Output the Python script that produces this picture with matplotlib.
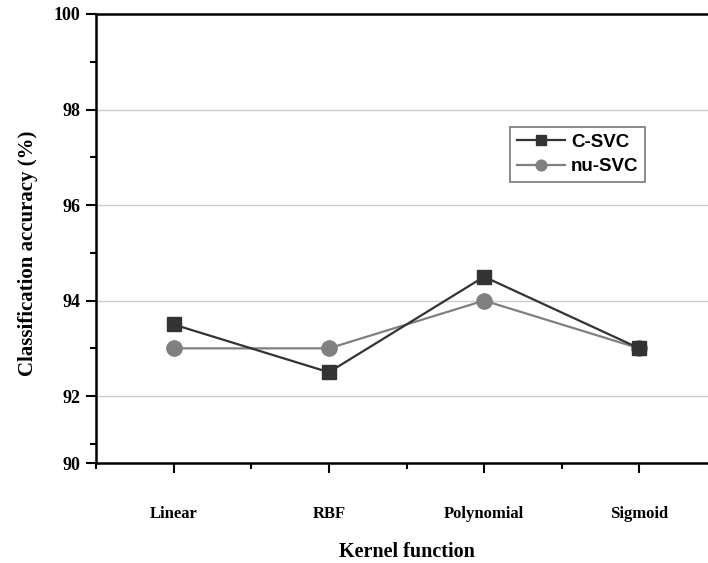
import matplotlib
matplotlib.use("Agg")
import matplotlib.pyplot as plt
from matplotlib.ticker import FixedLocator

categories = ["Linear", "RBF", "Polynomial", "Sigmoid"]
c_svc = [93.5, 92.5, 94.5, 93.0]
nu_svc = [93.0, 93.0, 94.0, 93.0]
ytick_labels = ["90", "92", "94", "96", "98", "100"]

# layout: the original axis is truncated just above 90 (bottom tick labelled 90)
Y_BOTTOM = 90.6
Y_TOP = 100
ytick_pos = [Y_BOTTOM, 92, 94, 96, 98, 100]
yminor_pos = [91, 93, 95, 97, 99]

plt.rcParams['font.family'] = ['Liberation Serif', 'DejaVu Serif']

fig = plt.figure(figsize=(7.08, 5.63), dpi=100)
ax = fig.add_axes([96/708, 1-463/563, (717-96)/708, (463-14)/563])

x = list(range(len(categories)))
ax.plot(x, c_svc, color='#333333', marker='s', markersize=10, linewidth=1.6,
        label='C-SVC', zorder=3)
ax.plot(x, nu_svc, color='#808080', marker='o', markersize=11, linewidth=1.6,
        label='nu-SVC', zorder=2)

ax.set_xlim(-0.5, 3.5)
ax.set_ylim(Y_BOTTOM, Y_TOP)
ax.set_xticks(x)
ax.set_xticklabels(categories, fontsize=12, fontweight='bold')
ax.xaxis.set_minor_locator(FixedLocator([-0.5, 0.5, 1.5, 2.5]))
ax.set_yticks(ytick_pos)
ax.set_yticklabels(ytick_labels, fontsize=13, fontweight='bold')
ax.yaxis.set_minor_locator(FixedLocator(yminor_pos))
ax.tick_params(which='major', direction='out', length=7, width=1.5, pad=4)
ax.tick_params(which='minor', direction='out', length=4, width=1.5)
ax.tick_params(axis='x', which='major', pad=24)

for s in ax.spines.values():
    s.set_linewidth(1.8)
ax.spines['right'].set_visible(False)

for gy in [92, 94, 96, 98]:
    ax.axhline(gy, color='#cccccc', linewidth=1, zorder=0)

ax.set_ylabel('Classification accuracy (%)', fontsize=15, fontweight='bold')
ax.yaxis.set_label_coords((38-96)/621, (463-253)/449)
ax.set_xlabel('Kernel function', fontsize=14.5, fontweight='bold')
ax.xaxis.set_label_coords(0.5, (463-542)/449)

leg = ax.legend(loc='upper left', bbox_to_anchor=(510/708, 1-127/563),
                bbox_transform=fig.transFigure, frameon=True, fancybox=False,
                prop={'family': 'Liberation Sans', 'weight': 'bold', 'size': 13.5},
                handlelength=2.6, handletextpad=0.3, borderpad=0.35, labelspacing=0.4,
                borderaxespad=0, markerscale=0.7)
leg.get_frame().set_edgecolor('#555555')
leg.get_frame().set_linewidth(1.2)

fig.savefig('out.png', dpi=100)
